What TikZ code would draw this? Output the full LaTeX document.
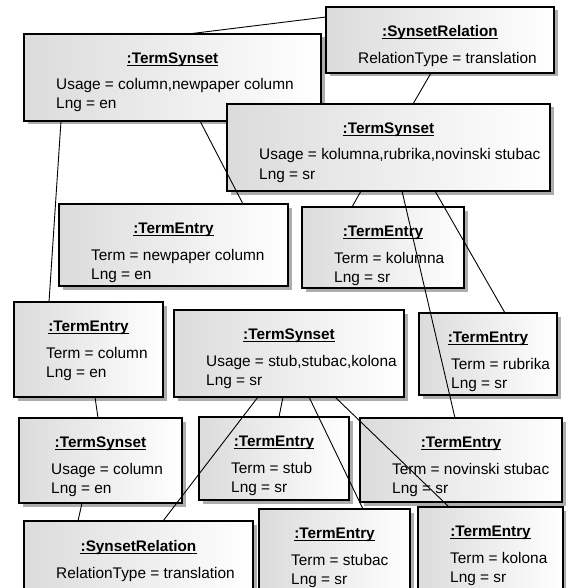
\documentclass[tikz,border=0pt]{standalone}
\usepackage{fontspec}
\setmainfont{Liberation Sans}
\usetikzlibrary{shadows,calc}
\tikzset{
  umlbox/.style={draw=black, line width=1.3pt, left color=black!14, right color=white,
    anchor=north west, inner sep=0pt, outer sep=0pt,
    drop shadow={shadow xshift=3.5pt, shadow yshift=-3.5pt, fill=black!40, opacity=0.8}},
  titletext/.style={anchor=base, inner sep=0pt, font=\fontsize{15.3}{18}\selectfont\bfseries},
  attrtext/.style={anchor=base west, inner sep=0pt, font=\fontsize{15.4}{18}\selectfont},
  link/.style={draw=black, line width=0.9pt},
  uline/.style={draw=black, line width=1pt},
}
\newcommand{\umlboxii}[8]{%
  \pgfmathsetmacro{\bw}{#4-#2}%
  \pgfmathsetmacro{\bh}{#5-#3}%
  \node[umlbox, minimum width=\bw pt, minimum height=\bh pt] (#1) at (#2,#3) {};
  \node[titletext] (#1t) at ($(#1.north)+(0,29.5)$) {#6};
  \draw[uline] ($(#1t.base west)+(0,2)$) -- ($(#1t.base east)+(0,2)$);
  \node[attrtext] (#1a) at ($(#1.north west)+(32,56)$) {#7};
  \node[attrtext] (#1b) at ($(#1.north west)+(32,75)$) {#8};
}
\newcommand{\umlboxi}[7]{%
  \pgfmathsetmacro{\bw}{#4-#2}%
  \pgfmathsetmacro{\bh}{#5-#3}%
  \node[umlbox, minimum width=\bw pt, minimum height=\bh pt] (#1) at (#2,#3) {};
  \node[titletext] (#1t) at ($(#1.north)+(0,30)$) {#6};
  \draw[uline] ($(#1t.base west)+(0,2)$) -- ($(#1t.base east)+(0,2)$);
  \node[attrtext] (#1a) at ($(#1.north west)+(32,57)$) {#7};
}
\begin{document}
\begin{tikzpicture}[x=1pt,y=-1pt]
\useasboundingbox (0,0) rectangle (566,588);
\fill[white] (0,0) rectangle (566,588);
\clip (0,0) rectangle (566,588);
% boxes
\umlboxi{sr1}{326}{7}{554}{73}{:SynsetRelation}{RelationType = translation}
\umlboxii{ts1}{24}{34}{321}{121}{:TermSynset}{Usage = column,newpaper column}{Lng = en}
\umlboxii{ts2}{227}{104}{550}{191}{:TermSynset}{Usage = kolumna,rubrika,novinski stubac}{Lng = sr}
\umlboxii{te1}{59}{204}{288}{286}{:TermEntry}{Term = newpaper column}{Lng = en}
\umlboxii{te2}{302}{207}{464}{288}{:TermEntry}{Term = kolumna}{Lng = sr}
\umlboxii{te3}{14}{302}{163}{397}{:TermEntry}{Term = column}{Lng = en}
\umlboxii{ts3}{174}{310}{404}{397}{:TermSynset}{Usage = stub,stubac,kolona}{Lng = sr}
\umlboxii{te4}{419}{313}{557}{395}{:TermEntry}{Term = rubrika}{Lng = sr}
\umlboxii{ts4}{19}{418}{182}{503}{:TermSynset}{Usage = column}{Lng = en}
\umlboxii{te5}{199}{417}{349}{500}{:TermEntry}{Term = stub}{Lng = sr}
\umlboxii{te6}{360}{418}{562}{502}{:TermEntry}{Term = novinski stubac}{Lng = sr}
\umlboxi{sr2}{24}{521}{253}{600}{:SynsetRelation}{RelationType = translation}
\umlboxii{te7}{259}{509}{410}{600}{:TermEntry}{Term = stubac}{Lng = sr}
\umlboxii{te8}{418}{507}{563}{600}{:TermEntry}{Term = kolona}{Lng = sr}
% connectors
\draw[link] ($(ts1.north west)+(164,0)$) -- ($(sr1.north west)+(0,10)$);
\draw[link] ($(sr1.south west)+(105,0)$) -- ($(ts2.north west)+(186,0)$);
\draw[link] ($(ts1.south west)+(37,0)$) -- ($(te3.north west)+(35,0)$);
\draw[link] ($(ts1.south west)+(176,0)$) -- ($(te1.north west)+(184,0)$);
\draw[link] ($(ts2.south west)+(134,0)$) -- ($(te2.north west)+(50,0)$);
\draw[link] ($(ts2.south west)+(175,0)$) -- ($(te6.north west)+(95,0)$);
\draw[link] ($(ts2.south west)+(208,0)$) -- ($(te4.north west)+(86,0)$);
\draw[link] ($(te3.south west)+(81,0)$) -- ($(ts4.north west)+(79,0)$);
\draw[link] ($(ts4.south west)+(63,0)$) -- ($(sr2.north west)+(54,0)$);
\draw[link] ($(ts3.south west)+(84,0)$) -- ($(sr2.north west)+(139,0)$);
\draw[link] ($(ts3.south west)+(109,0)$) -- ($(te5.north west)+(80,0)$);
\draw[link] ($(ts3.south west)+(135,0)$) -- ($(te7.north west)+(104,0)$);
\draw[link] ($(ts3.south west)+(161,0)$) -- ($(te8.north west)+(31,0)$);
\end{tikzpicture}
\end{document}
